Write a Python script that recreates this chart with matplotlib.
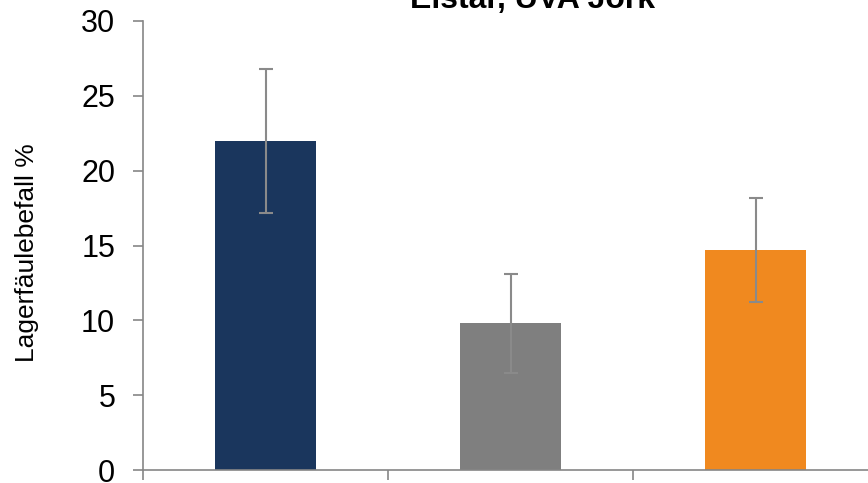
import numpy as np
import matplotlib
matplotlib.use('Agg')
import matplotlib.pyplot as plt

plt.rcParams['font.family'] = ['Liberation Sans', 'DejaVu Sans']

# data
groups = ['A', 'B', 'C']
values = [22.0, 9.8, 14.7]
errors = [4.8, 3.3, 3.5]
colors = ['#1a365d', '#7f7f7f', '#f0891f']

fig = plt.figure(figsize=(8.68, 4.83), dpi=100)
ax = fig.add_axes([143/868, 13/483, 735/868, 449/483])

x = np.arange(len(groups)) + 0.5
ax.bar(x, values, width=0.41, color=colors, zorder=2)
ax.errorbar(x, values, yerr=errors, fmt='none', ecolor='#8a8a8a',
            elinewidth=1.5, capsize=5, capthick=1.5, zorder=3)

ax.set_xlim(0, 3)
ax.set_ylim(0, 30)
ax.set_xticks([0, 1, 2, 3])
ax.set_xticklabels([])
ax.set_yticks(np.arange(0, 31, 5))
for s in ['top', 'right']:
    ax.spines[s].set_visible(False)
for s in ['left', 'bottom']:
    ax.spines[s].set_color('#868686')
    ax.spines[s].set_linewidth(1.2)
ax.tick_params(axis='both', colors='#868686', length=7, width=1.2)
ax.tick_params(axis='y', labelsize=22, labelcolor='black', pad=13)
ax.set_ylabel('Lagerfäulebefall %', fontsize=19, va='center')
ax.yaxis.set_label_coords(-0.158, 0.485)

fig.text(532/868, 1 - 8/483, 'Elstar, UVA Jork', ha='center', va='baseline',
         fontsize=23, fontweight='bold')

fig.savefig('out.png', dpi=100)
